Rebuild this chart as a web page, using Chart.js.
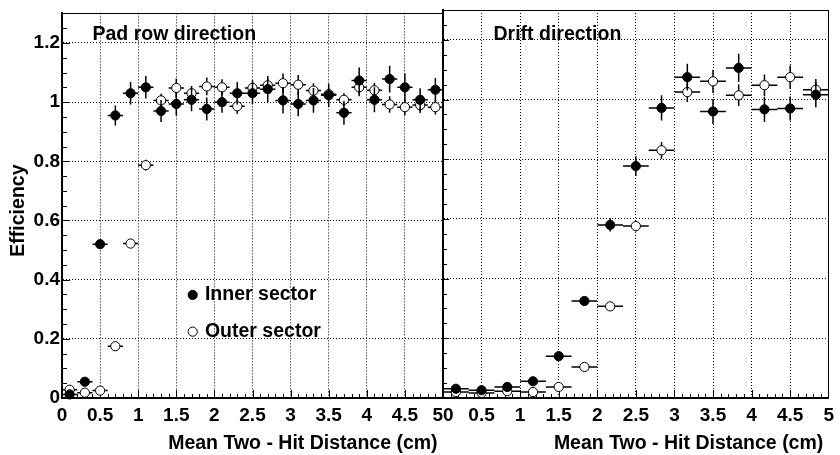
<!DOCTYPE html>
<html><head><meta charset="utf-8">
<script src="https://cdn.jsdelivr.net/npm/chart.js@4/dist/chart.umd.min.js"></script>
<style>
html,body{margin:0;padding:0;background:#fff;}
#wrap{position:relative;width:840px;height:455px;background:#fff;}
canvas{position:absolute;left:0;top:0;}
</style></head><body>
<div id="wrap">
<canvas id="padChart" width="840" height="455"></canvas>
<canvas id="driftChart" width="840" height="455"></canvas>
</div>
<script>
// ---- data ----
const seriesNames = ['Inner sector', 'Outer sector'];
const panelTitles = ['Pad row direction', 'Drift direction'];
const axisTitleX = 'Mean Two - Hit Distance (cm)';
const axisTitleY = 'Efficiency';
const xTicks = [0, 0.5, 1, 1.5, 2, 2.5, 3, 3.5, 4, 4.5, 5];
const yTicks = [0, 0.2, 0.4, 0.6, 0.8, 1, 1.2];

// Pad row direction (bin half-width 0.1 cm)
const padX = [0.1, 0.3, 0.5, 0.7, 0.9, 1.1, 1.3, 1.5, 1.7, 1.9, 2.1, 2.3, 2.5, 2.7, 2.9, 3.1, 3.3, 3.5, 3.7, 3.9, 4.1, 4.3, 4.5, 4.7, 4.9];
const padXErr = 0.1;
const padInner = [0.012, 0.055, 0.52, 0.955, 1.03, 1.05, 0.97, 0.994, 1.008, 0.977, 1.0, 1.03, 1.03, 1.044, 1.006, 0.994, 1.006, 1.023, 0.964, 1.073, 1.008, 1.078, 1.05, 1.008, 1.042];
const padInnerErr = [0.005, 0.01, 0.012, 0.034, 0.038, 0.038, 0.037, 0.039, 0.039, 0.039, 0.036, 0.038, 0.037, 0.044, 0.044, 0.042, 0.042, 0.039, 0.04, 0.044, 0.042, 0.045, 0.047, 0.039, 0.04];
const padOuter = [0.028, 0.018, 0.025, 0.175, 0.522, 0.787, 1.006, 1.048, 1.03, 1.053, 1.05, 0.986, 1.048, 1.057, 1.064, 1.059, 1.039, 1.027, 1.008, 1.05, 1.04, 0.992, 0.983, 0.99, 0.983];
const padOuterErr = [0.008, 0.008, 0.012, 0.012, 0.012, 0.018, 0.022, 0.032, 0.025, 0.03, 0.027, 0.025, 0.026, 0.025, 0.033, 0.033, 0.025, 0.02, 0.022, 0.03, 0.025, 0.028, 0.027, 0.027, 0.025];

// Drift direction (bin half-width 1/6 cm)
const driftX = [0.167, 0.5, 0.833, 1.167, 1.5, 1.833, 2.167, 2.5, 2.833, 3.167, 3.5, 3.833, 4.167, 4.5, 4.833];
const driftXErr = 0.1667;
const driftInner = [0.031, 0.026, 0.037, 0.056, 0.14, 0.325, 0.58, 0.777, 0.972, 1.075, 0.96, 1.106, 0.967, 0.97, 1.016];
const driftInnerErr = [0.006, 0.006, 0.008, 0.01, 0.013, 0.015, 0.022, 0.033, 0.042, 0.045, 0.042, 0.047, 0.042, 0.04, 0.042];
const driftOuter = [0.02, 0.017, 0.023, 0.02, 0.037, 0.104, 0.307, 0.576, 0.83, 1.025, 1.061, 1.014, 1.048, 1.075, 1.033];
const driftOuterErr = [0.006, 0.006, 0.006, 0.008, 0.01, 0.012, 0.015, 0.018, 0.028, 0.033, 0.039, 0.036, 0.036, 0.039, 0.036];

// ---- styling / layout ----
const FAM = "'Liberation Sans', Arial, Helvetica, sans-serif";
Chart.defaults.font.family = FAM;
Chart.defaults.color = '#000';

const pts = (xs, ys) => xs.map((x, i) => ({x: x, y: ys[i]}));

function makeDatasets(xs, inner, innerErr, outer, outerErr, xErr) {
  return [
    {label: seriesNames[0], data: pts(xs, inner), errY: innerErr, errX: xErr,
     backgroundColor: '#000', borderColor: '#000', borderWidth: 1,
     pointRadius: 4.6, pointBorderWidth: 1, pointStyle: 'circle', clip: false},
    {label: seriesNames[1], data: pts(xs, outer), errY: outerErr, errX: xErr,
     backgroundColor: '#fff', borderColor: '#000', borderWidth: 1,
     pointRadius: 4.6, pointBorderWidth: 1, pointStyle: 'circle', clip: false}
  ];
}

const errorBars = {
  id: 'errorBars',
  beforeDatasetDraw(chart, args) {
    const ds = chart.data.datasets[args.index];
    if (!ds.errY) return;
    const {ctx, chartArea: a, scales: {x, y}} = chart;
    ctx.save();
    ctx.beginPath(); ctx.rect(a.left, a.top, a.right - a.left, a.bottom - a.top); ctx.clip();
    ctx.strokeStyle = '#000'; ctx.lineWidth = 1.5;
    ctx.beginPath();
    ds.data.forEach((p, i) => {
      const cx = x.getPixelForValue(p.x), cy = y.getPixelForValue(p.y);
      ctx.moveTo(x.getPixelForValue(p.x - ds.errX), cy);
      ctx.lineTo(x.getPixelForValue(p.x + ds.errX), cy);
      ctx.moveTo(cx, y.getPixelForValue(p.y - ds.errY[i]));
      ctx.lineTo(cx, y.getPixelForValue(p.y + ds.errY[i]));
    });
    ctx.stroke();
    ctx.restore();
  }
};

const rootFrame = {
  id: 'rootFrame',
  beforeDatasetsDraw(chart, args, o) {
    const {ctx, chartArea: a, scales: {x, y}} = chart;
    ctx.save();
    ctx.strokeStyle = '#000'; ctx.lineWidth = 1;
    ctx.beginPath();
    for (let i = 1; i < 50; i++) {
      const px = Math.round(x.getPixelForValue(i / 10)) + 0.5;
      const len = (i % 5 === 0) ? o.xMajor : o.xMinor;
      ctx.moveTo(px, a.bottom); ctx.lineTo(px, a.bottom - len);
    }
    for (let j = 1; j < 26; j++) {
      const py = Math.round(y.getPixelForValue(j * 0.05)) + 0.5;
      const len = (j % 4 === 0) ? o.yMajor : o.yMinor;
      ctx.moveTo(a.left, py); ctx.lineTo(a.left + len, py);
    }
    ctx.stroke();
    ctx.beginPath();
    ctx.moveTo(a.left, Math.round(a.top) + 0.5); ctx.lineTo(a.right, Math.round(a.top) + 0.5);
    if (o.rightFrame) {
      const rx = Math.round(a.right) - 0.5;
      ctx.moveTo(rx, a.top); ctx.lineTo(rx, a.bottom);
    }
    ctx.stroke();
    ctx.fillStyle = '#000';
    ctx.font = 'bold 19.5px ' + FAM;
    ctx.textAlign = 'left'; ctx.textBaseline = 'alphabetic';
    ctx.fillText(o.label, o.labelX, o.labelY);
    ctx.restore();
  }
};

const legendPlace = {
  id: 'legendPlace',
  afterLayout(chart, args, o) {
    const lg = chart.legend;
    if (!lg || o.left === undefined) return;
    lg.left = o.left; lg.top = o.top;
    lg.width = 220; lg.height = 120;
    lg.right = o.left + 220; lg.bottom = o.top + 120;
  }
};

const tickFont = {family: FAM, size: 19, weight: 'bold', lineHeight: 1.2};
const titleFont = {family: FAM, size: 19.5, weight: 'bold', lineHeight: 1.2};

function makeScales(isLeft) {
  return {
    x: {
      type: 'linear', min: 0, max: 5,
      afterBuildTicks: s => { s.ticks = xTicks.map(v => ({value: v})); },
      afterFit: s => { s.height = 57; },
      grid: {color: '#000', lineWidth: 1, drawTicks: false},
      border: {display: true, color: '#000', width: 2, dash: [1, 2]},
      ticks: {color: '#000', font: tickFont, padding: 6, autoSkip: false, maxRotation: 0, minRotation: 0,
        callback: v => (isLeft && v === 5) ? '5\u2007' : (!isLeft && v === 0) ? '\u20070' : String(v)},
      title: {display: true, text: axisTitleX + ' ', align: 'end', color: '#000', font: titleFont, padding: {top: 0, bottom: 0}}
    },
    y: {
      type: 'linear', min: 0, max: 1.3,
      afterBuildTicks: s => { s.ticks = yTicks.map(v => ({value: v})); },
      afterFit: s => { s.width = isLeft ? 62 : 0; },
      grid: {color: '#000', lineWidth: 1, drawTicks: false},
      border: {display: true, color: '#000', width: 2, dash: [1, 2]},
      ticks: {display: isLeft, color: '#000', font: tickFont, padding: 2, callback: v => String(v)},
      title: {display: isLeft, text: axisTitleY + '\u2002', align: 'center', color: '#000', font: titleFont, padding: {top: 7, bottom: 0}}
    }
  };
}

new Chart(document.getElementById('padChart'), {
  type: 'scatter',
  data: {datasets: makeDatasets(padX, padInner, padInnerErr, padOuter, padOuterErr, padXErr)},
  options: {
    responsive: false, animation: false, events: [],
    layout: {padding: {left: 0, right: 397, top: 10, bottom: 0}},
    scales: makeScales(true),
    plugins: {
      tooltip: {enabled: false},
      legend: {display: true, position: 'chartArea', align: 'start',
        labels: {usePointStyle: true, boxWidth: 5, boxHeight: 6.5, padding: 17.2, color: '#000',
          font: {family: FAM, size: 19.5, weight: 'bold'}}},
      legendPlace: {left: 173, top: 268},
      rootFrame: {label: panelTitles[0], labelX: 92.5, labelY: 39.5, xMajor: 8, xMinor: 4, yMajor: 8, yMinor: 5, rightFrame: false}
    }
  },
  plugins: [errorBars, rootFrame, legendPlace]
});

new Chart(document.getElementById('driftChart'), {
  type: 'scatter',
  data: {datasets: makeDatasets(driftX, driftInner, driftInnerErr, driftOuter, driftOuterErr, driftXErr)},
  options: {
    responsive: false, animation: false, events: [],
    layout: {padding: {left: 443, right: 7.5, top: 10, bottom: 0}},
    scales: makeScales(false),
    plugins: {
      tooltip: {enabled: false},
      legend: {display: false},
      rootFrame: {label: panelTitles[1], labelX: 493.5, labelY: 39.5, xMajor: 8, xMinor: 4, yMajor: 6, yMinor: 4, rightFrame: true}
    }
  },
  plugins: [errorBars, rootFrame]
});
</script>
</body></html>
